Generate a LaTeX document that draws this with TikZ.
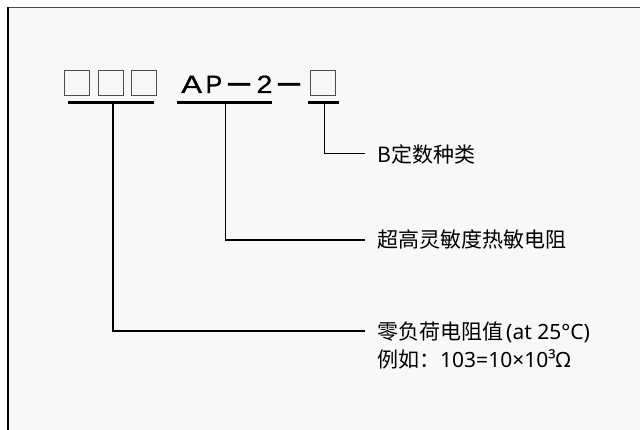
\documentclass[tikz,border=0pt]{standalone}
\usepackage{fontspec}
\usepackage{graphicx}
\setmainfont{Liberation Sans}
\newfontfamily\cjk{Noto Sans CJK SC}
\newfontfamily\lat{Noto Sans}
\newfontfamily\apfont[FakeBold=0.7]{Liberation Sans}
\definecolor{bgc}{HTML}{F7F8F8}
\begin{document}
\begin{tikzpicture}[x=1pt,y=-1pt,
  codebox/.style={draw=black!70,line width=1pt,minimum size=25pt,inner sep=0pt,anchor=north west},
  bar/.style={line width=3pt},
  conn/.style={line width=1.1pt},
  lab/.style={font=\cjk\fontsize{21}{25}\selectfont,inner sep=0pt,anchor=base west},
  glyph/.style={font=\apfont\fontsize{25}{30}\selectfont,inner sep=0pt,anchor=base}]
\useasboundingbox (0,0) rectangle (640,430);
\fill[white] (0,0) rectangle (640,430);
\fill[bgc] (8,7.5) rectangle (640,430);
\draw[line width=1.5pt,black!70] (8,7.5) -- (640,7.5);
\draw[line width=1.8pt] (8,7.5) -- (8,430);
% code boxes
\node[codebox] (b1) at (64.3,70) {};
\node[codebox] (b2) at (97.6,70) {};
\node[codebox] (b3) at (131,70) {};
\node[codebox] (b4) at (309.5,70) {};
% AP-2-
\node[glyph] (cA) at (191.7,93) {\scalebox{1.25}[1]{A}};
\node[glyph] (cP) at (213.9,93) {P};
\node[glyph] (d1) at (239,93) {\raisebox{-1.5pt}{\scalebox{0.88}[1.6]{—}}};
\node[glyph] (c2) at (264.5,93) {\scalebox{1.15}[1]{2}};
\node[glyph] (d2) at (289,93) {\raisebox{-1.5pt}{\scalebox{0.88}[1.6]{—}}};
% underline bars
\draw[bar] (67.7,103) -- (154,103);
\draw[bar] (177,103) -- (272,103);
\draw[bar] (308,103) -- (339,103);
\coordinate (u1) at (113,103);
\coordinate (u2) at (225.5,103);
\coordinate (u3) at (324.3,103);
\coordinate (e1) at (365,153.5);
\coordinate (e2) at (365,240);
\coordinate (e3) at (365,331);
% labels
\node[lab] (lab1) at (377,163) {B定数种类};
\node[lab] (lab2) at (377,248) {超高灵敏度热敏电阻};
\node[lab] (lab3a) at (377,339.5) {零负荷电阻值\kern3pt{\lat(at 25°C)}};
\node[lab] (lab3b) at (377,367.5) {例如：{\lat 103=10×10³Ω}};
% connectors
\draw[conn] (u3) |- (e1);
\draw[conn] (u2) |- (e2);
\draw[conn] (u1) |- (e3);
\end{tikzpicture}
\end{document}
